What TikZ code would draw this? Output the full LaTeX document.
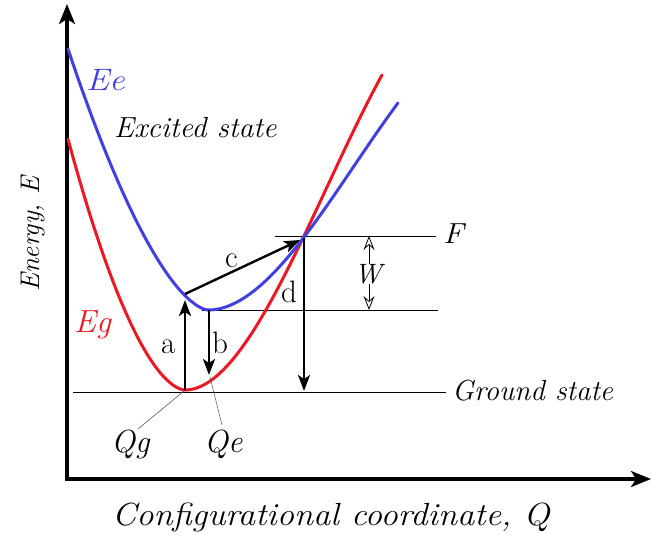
\documentclass[tikz,border=0pt]{standalone}
\usetikzlibrary{arrows.meta}
\definecolor{eblue}{RGB}{65,65,225}
\definecolor{gred}{RGB}{235,25,35}
\begin{document}
\begin{tikzpicture}[x=1pt,y=-1pt,
  axis/.style={line width=3.2pt, -{Stealth[length=20pt,width=16pt,inset=5pt]}},
  trans/.style={line width=2.4pt, -{Stealth[length=16pt,width=12pt,inset=4pt]}},
  level/.style={line width=0.9pt},
  curve/.style={line width=3pt, line cap=round, line join=round},
  lead/.style={line width=0.6pt, black!65},
  wtip/.style={line width=0.8pt, -{Stealth[open,length=14pt,width=11pt,inset=5pt]}},
  lbl/.style={inner sep=0pt, anchor=base west, font=\fontsize{31}{32}\selectfont},
  ilbl/.style={inner sep=0pt, anchor=base west, font=\fontsize{29}{30}\selectfont\itshape},
]
\useasboundingbox (0,0) rectangle (652,537);

% axes
\coordinate (origin) at (67,479);
\coordinate (ytop) at (67,4);
\coordinate (xend) at (651,479);
\draw[axis] ([yshift=-1.6pt]origin) -- (ytop);
\draw[axis] ([xshift=-1.6pt]origin) -- (xend);

% level lines
\coordinate (g1) at (73,392);  \coordinate (g2) at (446,392);
\coordinate (m1) at (202,310); \coordinate (m2) at (438,310);
\coordinate (f1) at (275,236); \coordinate (f2) at (436,236);
\draw[level] (g1) -- (g2);
\draw[level] (m1) -- (m2);
\draw[level] (f1) -- (f2);

% potential curves (u = displacement / 100 px)
\draw[curve, gred]
  plot[domain=-1.17:-0.005, samples=60] ({185+100*\x}, {390-191.4*(-\x)^1.726})
  -- plot[domain=0:1.97, samples=80] ({185+100*\x}, {390-151*\x*\x+35.45*\x*\x*\x});
\draw[curve, eblue]
  plot[domain=-1.40:-0.005, samples=60] ({208+100*\x}, {310-152.1*(-\x)^1.605})
  -- plot[domain=0:1.90, samples=80] ({208+100*\x}, {310-101.3*\x*\x+23.13*\x*\x*\x});

% transitions
\coordinate (aS) at (185,390); \coordinate (aE) at (185,300);
\coordinate (bS) at (209,310); \coordinate (bE) at (209,375);
\coordinate (cS) at (185,294); \coordinate (cE) at (300,240);
\coordinate (dS) at (304,238); \coordinate (dE) at (304,391);
\draw[trans] (aS) -- (aE);
\draw[trans] (bS) -- (bE);
\draw[trans] (cS) -- (cE);
\draw[trans] (dS) -- (dE);

% labels of transitions
\node[lbl] (la) at (161,353) {a};
\node[lbl] (lb) at (212,353) {b};
\node[lbl] (lc) at (225,267) {c};
\node[lbl] (ld) at (281,302) {d};

% W
\node[inner sep=0pt, font=\fontsize{28}{28}\selectfont\itshape] (W) at (368,274) {W};
\coordinate (wT) at (369,236); \coordinate (wB) at (369,310);
\coordinate (wT0) at (369,264); \coordinate (wB0) at (369,284);
\draw[wtip] (wT0) -- (wT);
\draw[wtip] (wB0) -- (wB);

% state labels
\node[ilbl, xscale=1.1] (F) at (443,243) {F};
\node[ilbl] (gs) at (452,400) {Ground state};
\node[ilbl, xscale=1.03] (es) at (114,138) {Excited state};
\node[ilbl, font=\fontsize{31}{30}\selectfont\itshape, xscale=1.12, text=eblue] (Ee) at (86,91) {Ee};
\node[ilbl, font=\fontsize{32}{30}\selectfont\itshape, xscale=1.03, text=gred] (Eg) at (74,332) {Eg};

% Q labels with leaders
\node[ilbl, font=\fontsize{32}{30}\selectfont\itshape] (Qg) at (111,452) {Qg};
\node[ilbl, font=\fontsize{32}{30}\selectfont\itshape] (Qe) at (204,452) {Qe};
\coordinate (qgP) at (184,391); \coordinate (qgL) at (138,429);
\coordinate (qeP) at (210,377); \coordinate (qeL) at (222,425);
\draw[lead] (qgP) -- (qgL);
\draw[lead] (qeP) -- (qeL);

% axis titles
\node[ilbl, font=\fontsize{32}{30}\selectfont\itshape, xscale=1.08] (xt) at (112,525) {Configurational coordinate, Q};
\node[ilbl, font=\fontsize{27}{28}\selectfont\itshape, rotate=90] (yt) at (39,292) {Energy, E};
\end{tikzpicture}
\end{document}
